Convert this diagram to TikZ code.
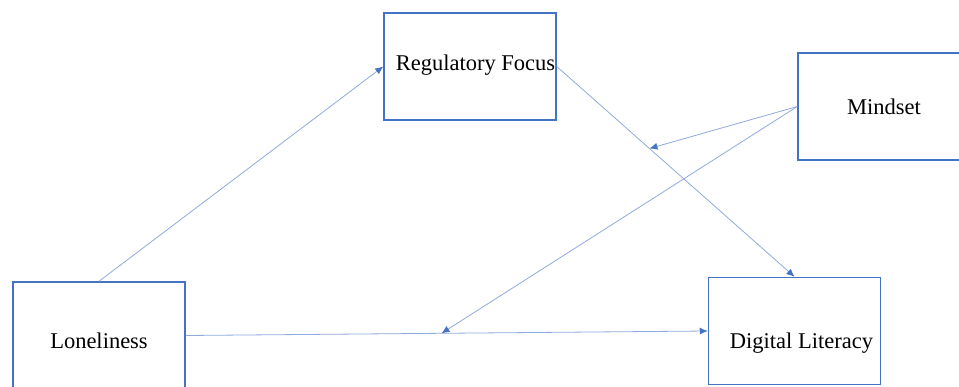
\documentclass[tikz,border=0pt]{standalone}
\usepackage{fontspec}
\setmainfont{Liberation Serif}
\usetikzlibrary{positioning,arrows.meta}
\definecolor{boxblue}{HTML}{4472C4}
\definecolor{lineblue}{HTML}{8FAADC}
\newcommand{\boxtext}[2]{\raisebox{#1}[0pt][0pt]{#2}}

\begin{document}
\begin{tikzpicture}[x=1pt,y=-1pt,
    var/.style={draw=boxblue,line width=1.5pt,minimum width=172pt,minimum height=107pt,
      inner sep=0pt,font=\fontsize{22.5}{26}\selectfont},
    path/.style={draw=lineblue,line width=0.8pt,-{Latex[length=8pt,width=7pt,color=boxblue]}}]
      \useasboundingbox (0,0) rectangle (959,386);
      \node[var] (focus) at (470,66.5) {\boxtext{-3.5pt}{\hspace*{11pt}Regulatory Focus}};
      \node[var] (mind) at (884,106.5) {\boxtext{-7.5pt}{Mindset}};
      \node[var] (lonely) at (99,335.5) {\boxtext{-12.5pt}{Loneliness}};
      \node[var] (literacy) at (794.5,331) {\boxtext{-17pt}{\hspace*{14pt}Digital Literacy}};

      % points where the moderator meets the paths
      \path (focus.east) -- (literacy.north) coordinate[pos=0.39] (modA);
      \path (lonely.east) -- (literacy.west) coordinate[pos=0.49] (modB);

      \path[path] (lonely.north) -- (focus.west);
      \path[path] (focus.east) -- (literacy.north);
      \path[path] (lonely.east) -- (literacy.west);
      \path[path] (mind.west) -- (modA);
      \path[path] (mind.west) -- (modB);
    \end{tikzpicture}
\end{document}
